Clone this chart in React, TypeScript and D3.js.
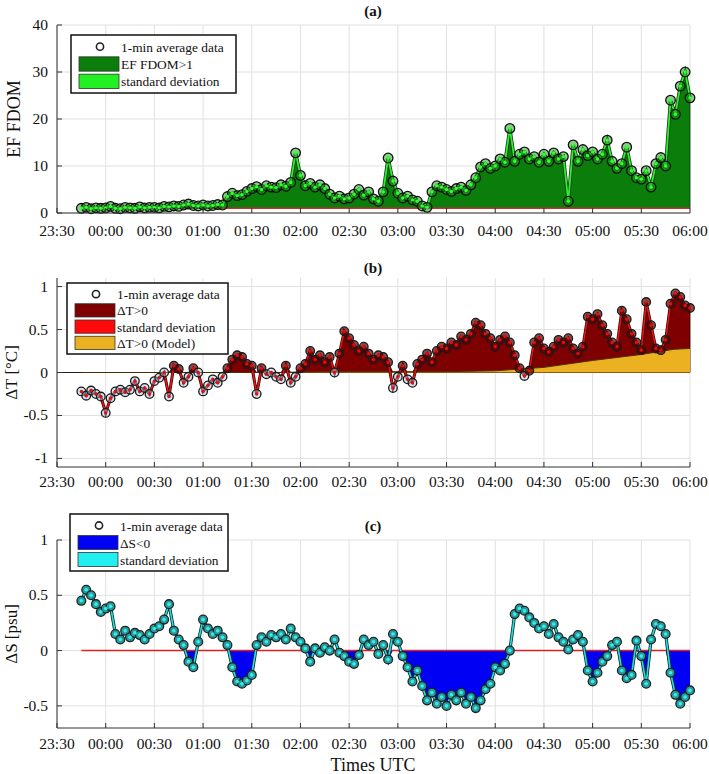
import React from "react";
import * as d3 from "d3";

// ---- x axis (minutes since 23:30) ----
const tickMinutes = [0, 30, 60, 90, 120, 150, 180, 210, 240, 270, 300, 330, 360, 390];
const tickLabels = ["23:30", "00:00", "00:30", "01:00", "01:30", "02:00", "02:30", "03:00", "03:30", "04:00", "04:30", "05:00", "05:30", "06:00"];
const START_MIN = 15; // 23:45
const STEP_MIN = 3;

// ---- (a) EF FDOM, 3-min samples from 23:45 to 06:00 ----
const efFdom = [
  1.0, 1.2, 0.9, 1.1, 1.0,
  1.1, 1.4, 1.0, 0.9, 1.2,
  1.1, 1.0, 1.3, 1.1, 1.2,
  1.2, 1.1, 1.4, 1.3, 1.5,
  1.4, 1.7, 1.9, 1.6, 1.5,
  1.7, 1.5, 1.6, 1.8, 1.7,
  3.5, 4.2, 3.7, 3.9, 4.6,
  5.2, 5.6, 5.0, 5.8, 5.5,
  5.4, 6.0, 5.7, 6.5, 12.8,
  8.0, 5.8, 6.3, 5.5, 6.0,
  5.2, 4.0, 3.2, 3.6, 3.0,
  3.2, 4.0, 5.0, 3.8, 4.5,
  3.0, 2.5, 4.5, 11.7, 6.8,
  4.2, 3.2, 3.6, 2.8, 2.5,
  1.5, 1.2, 4.5, 5.8, 5.5,
  5.0, 4.6, 5.2, 5.5, 4.8,
  6.0, 7.5, 9.8, 10.5, 9.5,
  10.0, 11.5, 10.8, 18.0, 11.0,
  12.5, 13.0, 11.5, 12.0, 10.8,
  12.5, 11.0, 12.8, 11.5, 12.0,
  2.5, 14.5, 11.0, 13.5, 12.2,
  13.0, 11.5, 12.5, 15.5, 11.0,
  9.5, 10.5, 14.0, 9.0, 7.5,
  7.2, 9.0, 5.5, 10.5, 11.8,
  10.0, 24.0, 21.0, 27.0, 30.0,
  24.5,
];
const efThreshold = 1;
const efTicks = [0, 10, 20, 30, 40];

// ---- (b) Delta T ----
const deltaT = [
  -0.22, -0.27, -0.21, -0.25, -0.28,
  -0.47, -0.30, -0.22, -0.20, -0.23,
  -0.20, -0.10, -0.22, -0.18, -0.25,
  -0.10, -0.06, 0.00, -0.28, 0.08,
  0.04, -0.12, -0.05, 0.05, 0.00,
  -0.22, -0.15, -0.08, -0.12, -0.05,
  0.05, 0.15, 0.20, 0.18, 0.10,
  0.08, -0.25, 0.05, -0.02, 0.00,
  -0.05, -0.08, 0.08, -0.12, -0.05,
  0.05, 0.10, 0.25, 0.15, 0.20,
  0.12, 0.18, 0.00, 0.22, 0.48,
  0.40, 0.32, 0.25, 0.30, 0.22,
  0.15, 0.20, 0.18, 0.12, -0.18,
  -0.05, 0.08, -0.08, -0.12, 0.10,
  0.15, 0.22, 0.12, 0.25, 0.30,
  0.28, 0.35, 0.32, 0.42, 0.38,
  0.45, 0.58, 0.55, 0.45, 0.40,
  0.30, 0.38, 0.42, 0.35, 0.20,
  0.05, -0.04, 0.02, 0.35, 0.40,
  0.28, 0.24, 0.30, 0.38, 0.35,
  0.40, 0.28, 0.22, 0.30, 0.65,
  0.62, 0.68, 0.55, 0.45, 0.35,
  0.30, 0.72, 0.62, 0.45, 0.35,
  0.26, 0.82, 0.55, 0.28, 0.26,
  0.38, 0.80, 0.92, 0.88, 0.78,
  0.75,
];
const modelMinutes = [15, 135, 150, 180, 240, 270, 300, 330, 360, 380, 390];
const modelDeltaT = [0.0, 0.0, 0.005, 0.01, 0.01, 0.02, 0.06, 0.14, 0.21, 0.27, 0.28];
const tTicks = [-1, -0.5, 0, 0.5, 1];

// ---- (c) Delta S ----
const deltaS = [
  0.45, 0.55, 0.50, 0.42, 0.35,
  0.38, 0.40, 0.15, 0.10, 0.18,
  0.12, 0.16, 0.14, 0.10, 0.15,
  0.20, 0.22, 0.28, 0.42, 0.18,
  0.10, 0.05, -0.10, -0.15, 0.08,
  0.28, 0.20, 0.15, 0.18, 0.12,
  0.05, -0.15, -0.28, -0.30, -0.27,
  -0.22, 0.05, 0.12, 0.08, 0.14,
  0.12, 0.15, 0.10, 0.20, 0.12,
  0.08, 0.02, -0.10, 0.02, -0.02,
  0.03, 0.00, 0.10, -0.02, -0.05,
  -0.10, -0.12, -0.04, 0.10, 0.05,
  0.08, -0.03, 0.05, -0.08, 0.15,
  0.08, -0.05, -0.15, -0.28, -0.18,
  -0.32, -0.45, -0.38, -0.48, -0.42,
  -0.50, -0.40, -0.45, -0.38, -0.48,
  -0.42, -0.52, -0.45, -0.35, -0.30,
  -0.15, -0.18, -0.12, 0.00, 0.33,
  0.38, 0.36, 0.30, 0.25, 0.20,
  0.22, 0.15, 0.24, 0.12, 0.08,
  0.01, 0.10, 0.14, 0.08, -0.18,
  -0.28, -0.20, -0.10, -0.05, 0.05,
  0.08, -0.18, -0.25, -0.22, 0.09,
  -0.05, -0.30, 0.10, 0.24, 0.22,
  0.15, -0.20, -0.40, -0.48, -0.42,
  -0.36,
];
const sTicks = [-0.5, 0, 0.5, 1];

const FONT = "'Liberation Serif', 'Times New Roman', serif";
const X0 = 57;
const X1 = 690;

const x = d3.scaleLinear().domain([0, 390]).range([X0, X1]);
const tOf = (i: number) => START_MIN + STEP_MIN * i;

type AxisProps = {
  y: d3.ScaleLinear<number, number>;
  top: number;
  bottom: number;
  yTicks: number[];
  labelBaseline: number;
};

function Grid({ y, top, bottom, yTicks }: AxisProps) {
  return (
    <g>
      {tickMinutes.map((m) => (
        <line key={"gx" + m} x1={x(m)} x2={x(m)} y1={top} y2={bottom} stroke="#e0e0e0" strokeWidth={1} />
      ))}
      {yTicks.map((v) => (
        <line key={"gy" + v} x1={X0} x2={X1} y1={y(v)} y2={y(v)} stroke="#e0e0e0" strokeWidth={1} />
      ))}
    </g>
  );
}

function Axes({ y, top, bottom, yTicks, labelBaseline }: AxisProps) {
  return (
    <g>
      <line x1={X0} x2={X0} y1={top} y2={bottom} stroke="#333" strokeWidth={1} />
      <line x1={X0} x2={X1} y1={bottom} y2={bottom} stroke="#333" strokeWidth={1} />
      {tickMinutes.map((m, i) => (
        <g key={"tx" + m}>
          <line x1={x(m)} x2={x(m)} y1={bottom} y2={bottom - 5} stroke="#333" strokeWidth={1} />
          <text x={x(m)} y={labelBaseline} fontSize={15.5} textAnchor="middle" fontFamily={FONT} fill="#111">
            {tickLabels[i]}
          </text>
        </g>
      ))}
      {yTicks.map((v) => (
        <g key={"ty" + v}>
          <line x1={X0} x2={X0 + 5} y1={y(v)} y2={y(v)} stroke="#333" strokeWidth={1} />
          <text x={48} y={y(v) + 5} fontSize={15.5} textAnchor="end" fontFamily={FONT} fill="#111">
            {String(v)}
          </text>
        </g>
      ))}
    </g>
  );
}

function Legend({ x0, y0, w, h, items }: { x0: number; y0: number; w: number; h: number; items: { kind: string; color?: string; label: string }[] }) {
  const rowH = (h - 6) / items.length;
  return (
    <g>
      <rect x={x0} y={y0} width={w} height={h} fill="#fff" stroke="#111" strokeWidth={1.5} />
      {items.map((it, i) => {
        const cy = y0 + 3 + rowH * (i + 0.5);
        return (
          <g key={i}>
            {it.kind === "marker" ? (
              <circle cx={x0 + 29} cy={cy} r={3.6} fill="#fff" stroke="#222" strokeWidth={1.6} />
            ) : (
              <rect x={x0 + 8} y={cy - rowH / 2 + 1.5} width={40} height={rowH - 3} fill={it.color} stroke="#333" strokeWidth={0.8} />
            )}
            <text x={x0 + 50} y={cy + 5} fontSize={13.4} fill="#111" fontFamily={FONT}>
              {it.label}
            </text>
          </g>
        );
      })}
    </g>
  );
}

export default function App() {
  // ---------- panel (a) ----------
  const aTop = 25, aBot = 213;
  const ya = d3.scaleLinear().domain([0, 40]).range([aBot, aTop]);
  const areaA = d3
    .area<number>()
    .x((_, i) => x(tOf(i)))
    .y0(ya(efThreshold))
    .y1((v) => ya(Math.max(v, efThreshold)));
  const lineA = d3.line<number>().x((_, i) => x(tOf(i))).y((v) => ya(v));

  // ---------- panel (b) ----------
  const bTop = 278, bBot = 467;
  const yb = d3.scaleLinear().domain([-1.1, 1.1]).range([bBot, bTop]);
  const areaB = d3
    .area<number>()
    .x((_, i) => x(tOf(i)))
    .y0(yb(0))
    .y1((v) => yb(Math.max(v, 0)));
  const lineB = d3.line<number>().x((_, i) => x(tOf(i))).y((v) => yb(v));
  const areaModel = d3
    .area<number>()
    .x((_, i) => x(modelMinutes[i]))
    .y0(yb(0))
    .y1((v) => yb(v));
  const lineModel = d3.line<number>().x((_, i) => x(modelMinutes[i])).y((v) => yb(v));

  // ---------- panel (c) ----------
  const cTop = 540, cBot = 728;
  const yc = d3.scaleLinear().domain([-0.7, 1]).range([cBot, cTop]);
  const areaC = d3
    .area<number>()
    .x((_, i) => x(tOf(i)))
    .y0(yc(0))
    .y1((v) => yc(Math.min(v, 0)));
  const lineC = d3.line<number>().x((_, i) => x(tOf(i))).y((v) => yc(v));

  const firstX = x(tOf(0));
  const lastX = x(tOf(deltaS.length - 1));

  return (
    <svg width={709} height={774} style={{ position: "absolute", left: 0, top: 0, background: "#fff" }} fontFamily={FONT}>
      <rect x={0} y={0} width={709} height={774} fill="#fff" />

      {/* ===== (a) ===== */}
      <Grid y={ya} top={aTop} bottom={aBot} yTicks={efTicks} labelBaseline={236} />
      <path d={areaA(efFdom) || ""} fill="#0a7d0a" stroke="#0b3d0b" strokeWidth={0.8} />
      <line x1={firstX} x2={lastX} y1={ya(efThreshold)} y2={ya(efThreshold)} stroke="#c83232" strokeWidth={1.5} />
      <path d={lineA(efFdom) || ""} fill="none" stroke="#1a3a1a" strokeWidth={3.4} />
      <path d={lineA(efFdom) || ""} fill="none" stroke="#2bf02b" strokeWidth={1.8} />
      {efFdom.map((v, i) => (
        <circle key={"ca" + i} cx={x(tOf(i))} cy={ya(v)} r={4.8} fill="#1a9a1a" fillOpacity={0.5} stroke="#111" strokeWidth={1.3} />
      ))}
      {efFdom.map((v, i) => (
        <circle key={"cad" + i} cx={x(tOf(i))} cy={ya(v)} r={1.7} fill="#33ff33" />
      ))}
      <Axes y={ya} top={aTop} bottom={aBot} yTicks={efTicks} labelBaseline={236} />
      <text x={373} y={16} fontSize={15} fontWeight="bold" textAnchor="middle" fill="#111">(a)</text>
      <text transform={`translate(20,${(aTop + aBot) / 2}) rotate(-90)`} fontSize={18} textAnchor="middle" fill="#111">EF FDOM</text>
      <Legend
        x0={71}
        y0={35}
        w={165}
        h={58}
        items={[
          { kind: "marker", label: "1-min average data" },
          { kind: "swatch", color: "#0a7d0a", label: "EF FDOM>1" },
          { kind: "swatch", color: "#22f022", label: "standard deviation" },
        ]}
      />

      {/* ===== (b) ===== */}
      <Grid y={yb} top={bTop} bottom={bBot} yTicks={tTicks} labelBaseline={487} />
      <line x1={X0} x2={X1} y1={yb(0)} y2={yb(0)} stroke="#222" strokeWidth={1} />
      <path d={areaB(deltaT) || ""} fill="#7e0000" stroke="#3a0000" strokeWidth={0.8} />
      <path d={areaModel(modelDeltaT) || ""} fill="#ebb121" />
      <path d={lineModel(modelDeltaT) || ""} fill="none" stroke="#4a3000" strokeWidth={1} />
      <path d={lineB(deltaT) || ""} fill="none" stroke="#2a0a0a" strokeWidth={3} />
      <path d={lineB(deltaT) || ""} fill="none" stroke="#ee1111" strokeWidth={1.6} />
      {deltaT.map((v, i) => (
        <circle key={"cb" + i} cx={x(tOf(i))} cy={yb(v)} r={4.3} fill={v > 0 ? "#5a0000" : "#9cc6e0"} fillOpacity={v > 0 ? 0.7 : 0.45} stroke="#1a1a1a" strokeWidth={1.3} />
      ))}
      {deltaT.map((v, i) => (
        <circle key={"cbd" + i} cx={x(tOf(i))} cy={yb(v)} r={1.7} fill="#e01010" />
      ))}
      <Axes y={yb} top={bTop} bottom={bBot} yTicks={tTicks} labelBaseline={487} />
      <text x={373} y={273} fontSize={15} fontWeight="bold" textAnchor="middle" fill="#111">(b)</text>
      <text transform={`translate(17,${(bTop + bBot) / 2}) rotate(-90)`} fontSize={17} textAnchor="middle" fill="#111">ΔT [°C]</text>
      <Legend
        x0={67}
        y0={283}
        w={161}
        h={71}
        items={[
          { kind: "marker", label: "1-min average data" },
          { kind: "swatch", color: "#7e0000", label: "ΔT>0" },
          { kind: "swatch", color: "#ff0a0a", label: "standard deviation" },
          { kind: "swatch", color: "#ebb121", label: "ΔT>0 (Model)" },
        ]}
      />

      {/* ===== (c) ===== */}
      <Grid y={yc} top={cTop} bottom={cBot} yTicks={sTicks} labelBaseline={749} />
      <path d={areaC(deltaS) || ""} fill="#0000f5" />
      <line x1={firstX} x2={lastX} y1={yc(0)} y2={yc(0)} stroke="#e02020" strokeWidth={1.5} />
      <path d={lineC(deltaS) || ""} fill="none" stroke="#0d2a2a" strokeWidth={3.2} />
      <path d={lineC(deltaS) || ""} fill="none" stroke="#22e0e0" strokeWidth={1.6} />
      {deltaS.map((v, i) => (
        <circle key={"cc" + i} cx={x(tOf(i))} cy={yc(v)} r={4.4} fill="#2a9a9a" stroke="#1a2424" strokeWidth={1.3} />
      ))}
      {deltaS.map((v, i) => (
        <circle key={"ccd" + i} cx={x(tOf(i))} cy={yc(v)} r={1.8} fill="#33f0f0" />
      ))}
      <Axes y={yc} top={cTop} bottom={cBot} yTicks={sTicks} labelBaseline={749} />
      <text x={373} y={531} fontSize={15} fontWeight="bold" textAnchor="middle" fill="#111">(c)</text>
      <text transform={`translate(17,${(cTop + cBot) / 2}) rotate(-90)`} fontSize={17} textAnchor="middle" fill="#111">ΔS [psu]</text>
      <Legend
        x0={70}
        y0={514}
        w={158}
        h={57}
        items={[
          { kind: "marker", label: "1-min average data" },
          { kind: "swatch", color: "#0000f5", label: "ΔS<0" },
          { kind: "swatch", color: "#22f0f0", label: "standard deviation" },
        ]}
      />

      <text x={373} y={771} fontSize={18} textAnchor="middle" fill="#111">Times UTC</text>
    </svg>
  );
}
